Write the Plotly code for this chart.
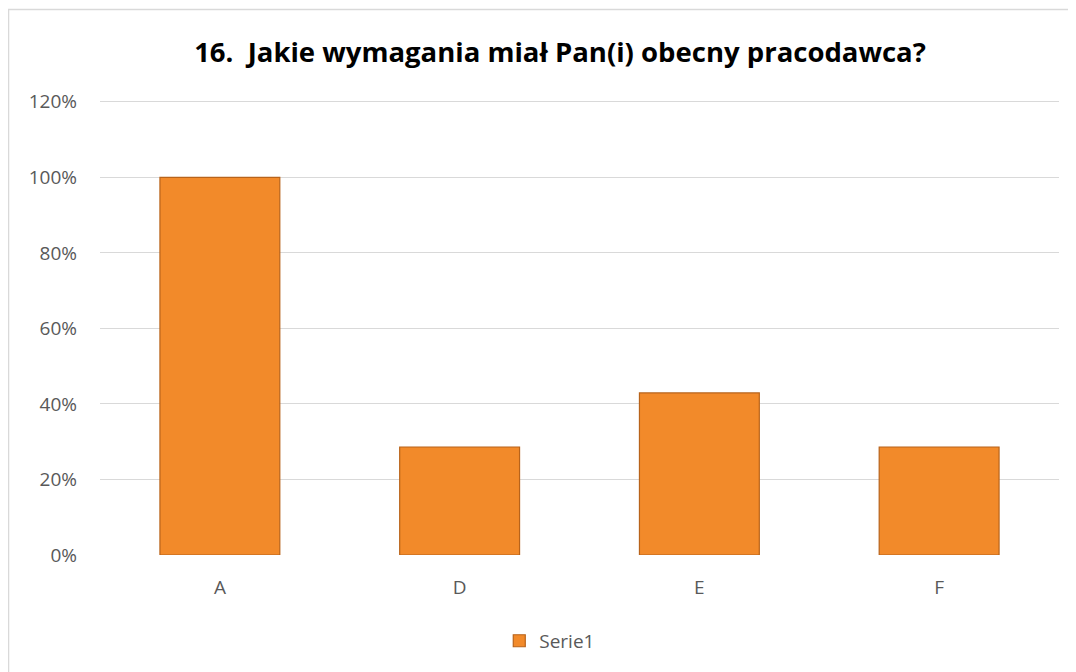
import plotly.graph_objects as go

categories = ["A", "D", "E", "F"]
values = [1.0, 0.286, 0.429, 0.286]
series_name = "Serie1"
title_text = "<b>16.  Jakie wymagania miał Pan(i) obecny pracodawca?</b>"

fig = go.Figure()
fig.add_trace(go.Bar(
    x=categories, y=values, name=series_name,
    marker=dict(color="#F28A2A", line=dict(color="#B8631A", width=1.2)),
    showlegend=True,
))

FONT = "Open Sans, Liberation Sans, sans-serif"
fig.update_layout(
    width=1076, height=672,
    margin=dict(l=92, r=25, t=90, b=125),
    paper_bgcolor="white", plot_bgcolor="white",
    font=dict(family=FONT, color="#595959", size=19),
    title=dict(text=title_text, x=0.513, xanchor="center", y=0.934, yanchor="middle",
               font=dict(size=27.5, color="#000000", family=FONT)),
    bargap=0.5,
    showlegend=True,
    legend=dict(orientation="h", x=0.469, xanchor="center", y=-0.188, yanchor="middle",
                font=dict(size=19, color="#595959"), itemwidth=30),
    xaxis=dict(showgrid=False, showline=False, ticks="", ticklabelstandoff=19),
    yaxis=dict(range=[0, 1.21], tickvals=[0, 0.2, 0.4, 0.6, 0.8, 1.0, 1.2],
               tickformat=".0%", showgrid=True,
               gridcolor="#D9D9D9", gridwidth=1.3, zeroline=False, showline=False,
               ticks="", ticklabelstandoff=22),
)

fig.add_shape(type="rect", xref="paper", yref="paper",
              x0=-0.0954, x1=1.1, y0=-0.4, y1=1.1937,
              line=dict(color="#D9D9D9", width=1.5), layer="below")

fig.write_html("out.html")
